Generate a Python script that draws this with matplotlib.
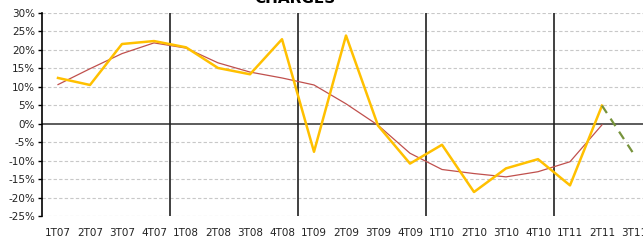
import numpy as np
import matplotlib.pyplot as plt
from matplotlib.ticker import FuncFormatter

# Données
trimestres = ['1T07', '2T07', '3T07', '4T07', '1T08', '2T08', '3T08', '4T08',
              '1T09', '2T09', '3T09', '4T09', '1T10', '2T10', '3T10', '4T10',
              '1T11', '2T11', '3T11']
charges = [12.4, 10.5, 21.6, 22.4, 20.7, 15.1, 13.4, 22.9,
           -7.6, 23.9, -0.5, -10.8, -5.7, -18.5, -12.1, -9.6,
           -16.7, 4.9]
tendance = [10.6, 14.9, 19.0, 21.9, 20.5, 16.5, 14.0, 12.4,
            10.5, 5.4, -0.4, -8.0, -12.4, -13.5, -14.4, -13.0,
            -10.3, -0.3]
prevision_x = ['2T11', '3T11']
prevision = [4.9, -8.3]

x = np.arange(len(trimestres))

fig = plt.figure(figsize=(6.43, 2.44), dpi=100)
ax = fig.add_axes([42/643, 28/244, 608/643, 203/244])

# Grille horizontale
for v in range(-25, 31, 5):
    if v != 0:
        ax.axhline(v, color='#c8c8c8', lw=0.8, ls=(0, (3, 2)), zorder=0)
ax.axhline(0, color='#404040', lw=1.2, zorder=1)

# Séparateurs d'années
for sep in [3.5, 7.5, 11.5, 15.5]:
    ax.axvline(sep, color='#202020', lw=1.2, zorder=1)

ax.plot(x[:len(tendance)], tendance, color='#c0504d', lw=0.9, zorder=3)
ax.plot(x[:len(charges)], charges, color='#ffc000', lw=1.8, zorder=4)
px = [trimestres.index(t) for t in prevision_x]
ax.plot(px, prevision, color='#77933c', lw=1.6, ls=(0, (4, 3)), zorder=4)

ax.set_xlim(-0.5, len(trimestres) - 0.5)
ax.set_ylim(-25, 30)
ax.set_yticks(range(-25, 31, 5))
ax.yaxis.set_major_formatter(FuncFormatter(lambda v, p: '%d%%' % v))
ax.set_xticks(x)
ax.set_xticklabels(trimestres)
ax.tick_params(axis='x', length=0, pad=9, labelsize=7.5, colors='#222222')
ax.tick_params(axis='y', length=3, width=1, pad=2, labelsize=7.5,
               colors='black', labelcolor='#222222')

for s in ['top', 'right', 'bottom']:
    ax.spines[s].set_visible(False)
ax.spines['left'].set_linewidth(1.2)

fig.text(295/643, 1.005, 'CHARGES', ha='center', va='center',
         fontsize=11, fontweight='bold')

fig.savefig('out.png', dpi=100)
